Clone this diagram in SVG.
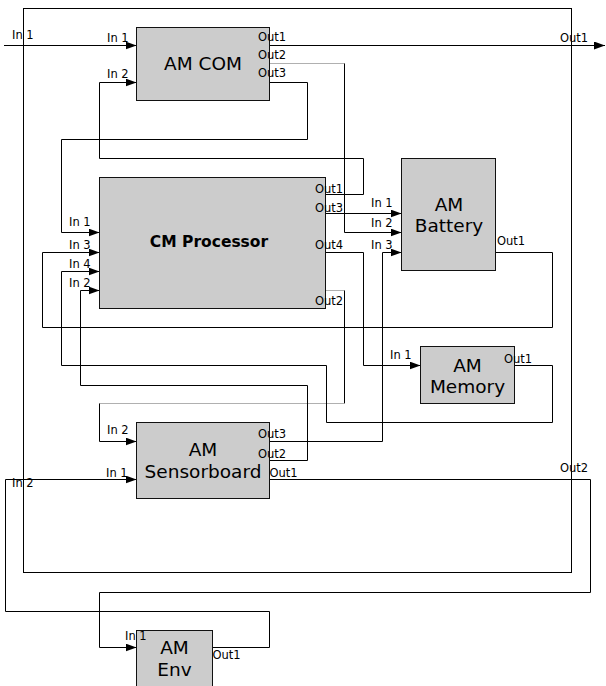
<svg xmlns="http://www.w3.org/2000/svg" width="606" height="686" viewBox="0 0 606 686">
<style>
.box{fill:#cccccc;stroke:#111;stroke-width:1}
.frame{fill:none;stroke:#000;stroke-width:1}
.c{fill:none;stroke:#000;stroke-width:1}
.g{fill:none;stroke:#b0b0b0;stroke-width:1}
.a{marker-end:url(#arr)}
.p{font-family:"DejaVu Sans",Verdana,sans-serif;font-size:11.5px;fill:#000}
.t{font-family:"DejaVu Sans",Verdana,sans-serif;font-size:18.5px;fill:#000;text-anchor:middle}
.tb{font-family:"DejaVu Sans",Verdana,sans-serif;font-size:15.5px;font-weight:bold;fill:#000;text-anchor:middle}
</style>
<defs>
<marker id="arr" markerUnits="userSpaceOnUse" markerWidth="11" markerHeight="8" refX="11" refY="4" orient="auto">
<path d="M0,0 L11,4 L0,8 z" fill="#000"/>
</marker>
</defs>
<rect width="606" height="686" fill="#fff"/>
<rect class="frame" x="23.5" y="8.5" width="548" height="564"/>
<g id="connectors">
<path class="c a" d="M4,45.5 H136.5"/>
<path class="c a" d="M269.5,45.5 H605"/>
<path class="g" d="M269.5,63.5 H344.5"/>
<path class="c a" d="M344.5,63.5 V232.5 H401.5"/>
<path class="c a" d="M269.5,82.5 H307.5 V139.5 H61.5 V232.5 H99.5"/>
<path class="c a" d="M325.5,194.5 H363.5 V158.5 H99.5 V82.5 H136.5"/>
<path class="c a" d="M325.5,213.5 H401.5"/>
<path class="c a" d="M325.5,252.5 H363.5 V365.5 H420.5"/>
<path class="g" d="M325.5,290.5 H344.5"/>
<path class="c" d="M344.5,290.5 V403.5"/>
<path class="g" d="M344.5,403.5 H99.5"/>
<path class="c a" d="M99.5,403.5 V441.5 H136.5"/>
<path class="c a" d="M495.5,252.5 H552.5 V327.5 H42.5 V252.5 H99.5"/>
<path class="c a" d="M514.5,365.5 H552.5 V422.5 H326.5 V365.5 H61.5 V271.5 H99.5"/>
<path class="c a" d="M269.5,441.5 H382.5 V252.5 H401.5"/>
<path class="c a" d="M269.5,460.5 H307.5 V385.5 H80.5 V290.5 H99.5"/>
<path class="c a" d="M269.5,479.5 H590.5 V592.5 H99.5 V647.5 H136.5"/>
<path class="c a" d="M212.5,647.5 H269.5 V611.5 H5.5 V479.5 H136.5"/>
</g>
<g id="ext-ports">
<text class="p" x="12" y="38.5">In 1</text>
<text class="p" x="560" y="41.5">Out1</text>
<text class="p" x="12" y="487">In 2</text>
<text class="p" x="560" y="471.5">Out2</text>
</g>
<g id="am-com">
<rect class="box" x="136.5" y="27.5" width="133" height="73"/>
<text class="t" x="203" y="70">AM COM</text>
<text class="p" x="107" y="41.5">In 1</text>
<text class="p" x="107" y="78">In 2</text>
<text class="p" x="258" y="41">Out1</text>
<text class="p" x="258" y="59">Out2</text>
<text class="p" x="258" y="77">Out3</text>
</g>
<g id="cm-processor">
<rect class="box" x="99.5" y="177.5" width="226" height="131"/>
<text class="tb" x="209" y="247">CM Processor</text>
<text class="p" x="69" y="226">In 1</text>
<text class="p" x="69" y="249">In 3</text>
<text class="p" x="69" y="268">In 4</text>
<text class="p" x="69" y="287">In 2</text>
<text class="p" x="315" y="192.5">Out1</text>
<text class="p" x="315" y="211.5">Out3</text>
<text class="p" x="315" y="249">Out4</text>
<text class="p" x="315" y="305">Out2</text>
</g>
<g id="am-battery">
<rect class="box" x="401.5" y="158.5" width="94" height="112"/>
<text class="t" x="449" y="210.5">AM</text>
<text class="t" x="449" y="231.5">Battery</text>
<text class="p" x="371" y="207">In 1</text>
<text class="p" x="371" y="226.5">In 2</text>
<text class="p" x="371" y="249">In 3</text>
<text class="p" x="497" y="245">Out1</text>
</g>
<g id="am-memory">
<rect class="box" x="420.5" y="346.5" width="94" height="57"/>
<text class="t" x="467.5" y="371.5">AM</text>
<text class="t" x="467.5" y="393">Memory</text>
<text class="p" x="390" y="359">In 1</text>
<text class="p" x="504" y="363">Out1</text>
</g>
<g id="am-sensorboard">
<rect class="box" x="136.5" y="422.5" width="133" height="76"/>
<text class="t" x="203" y="456">AM</text>
<text class="t" x="203" y="477.5">Sensorboard</text>
<text class="p" x="107" y="434">In 2</text>
<text class="p" x="106" y="476.5">In 1</text>
<text class="p" x="258" y="438">Out3</text>
<text class="p" x="258" y="457.5">Out2</text>
<text class="p" x="269.5" y="476.5">Out1</text>
</g>
<g id="am-env">
<rect class="box" x="136.5" y="630.5" width="76" height="60"/>
<text class="t" x="174.5" y="654">AM</text>
<text class="t" x="174.5" y="676">Env</text>
<text class="p" x="125" y="640">In 1</text>
<text class="p" x="212.5" y="659">Out1</text>
</g>
</svg>
